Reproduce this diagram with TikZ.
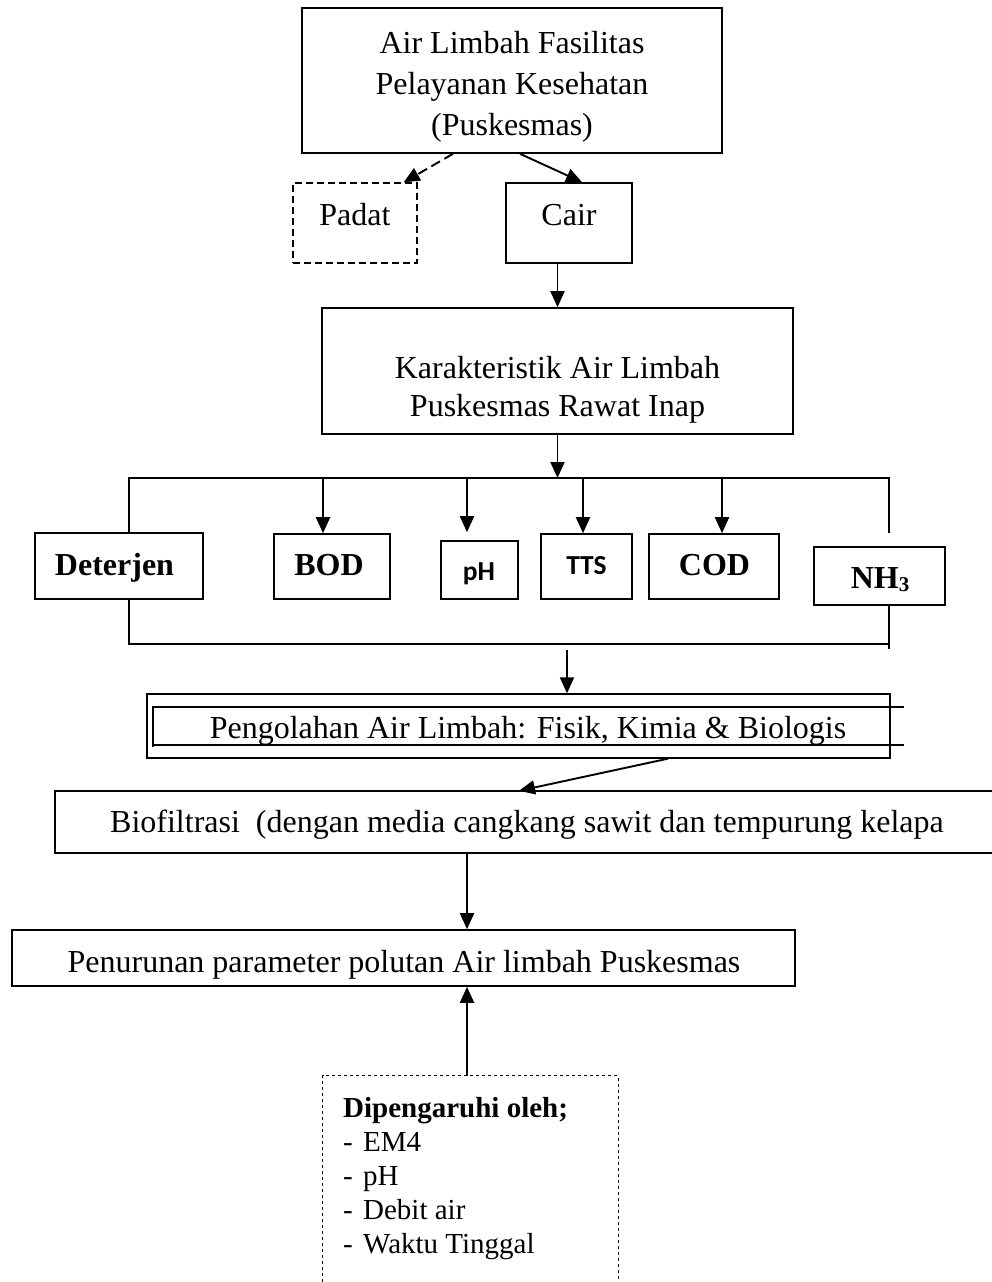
\documentclass[tikz,border=0pt]{standalone}
\usepackage{fontspec}
\setmainfont{Liberation Serif}
\newfontfamily\calib{Carlito}
\usetikzlibrary{arrows.meta,calc}
\begin{document}
\begin{tikzpicture}[x=1pt,y=-1pt,
  box/.style={draw,line width=1.6pt,inner sep=0pt,anchor=center},
  fnt/.style={font=\fontsize{32}{41}\selectfont,inner sep=0pt},
  tl/.style={font=\fontsize{32}{41}\selectfont,text height=21pt,text depth=0pt,inner sep=0pt},
  tlb/.style={font=\fontsize{32}{41}\selectfont\bfseries,text height=21pt,text depth=0pt,inner sep=0pt},
  tls/.style={font=\calib\bfseries\fontsize{27.5}{27.5}\selectfont,text height=17.5pt,text depth=0pt,inner sep=0pt},
  arr/.style={line width=1.9pt,-{Triangle[length=16pt,width=14pt]}},
  bus/.style={line width=1.3pt},
  padash/.style={line width=1.4pt,dash pattern=on 7pt off 4pt},
  dipdash/.style={line width=1.1pt,dash pattern=on 3pt off 3pt}]
\useasboundingbox (0,0) rectangle (992,1282);

% top
\node[box,minimum width=420pt,minimum height=145pt] (top) at (512,80.5) {};
\node[fnt,align=center] (toptxt) at (512,87) {Air Limbah Fasilitas\\Pelayanan Kesehatan\\(Puskesmas)};

\node[box,padash,minimum width=124pt,minimum height=80pt] (padat) at (355,223) {};
\node[tl] (padattxt) at (355,215) {Padat};
\node[box,minimum width=126pt,minimum height=80pt] (cair) at (569,223) {};
\node[tl] (cairtxt) at (569,215) {Cair};
\draw[arr,dash pattern=on 10pt off 5pt] ([xshift=-59pt]top.south) -- ([xshift=-14pt]padat.north east);
\draw[arr] ([xshift=8pt]top.south) -- ([xshift=13pt]cair.north);

% karakteristik
\node[box,minimum width=471pt,minimum height=126pt] (kar) at (557.5,371) {};
\node[align=center,font=\fontsize{32}{38}\selectfont,inner sep=0pt] (kartxt) at (557.5,390) {Karakteristik Air Limbah\\Puskesmas Rawat Inap};
\draw[arr] (cair.south -| kar.north) -- (kar.north);

% bus
\coordinate (busL) at (129,478);
\coordinate (busR) at (889,478);
\coordinate (rEnd) at (889,533);
\draw[arr] (kar.south) -- (kar.south |- busL);

% parameters
\node[box,minimum width=168pt,minimum height=66pt] (det) at (119,566) {};
\node[tlb] (dettxt) at (114.5,565) {Deterjen};
\node[box,minimum width=116pt,minimum height=65pt] (bod) at (332,566.5) {};
\node[tlb] (bodtxt) at (329,565) {BOD};
\node[box,minimum width=77pt,minimum height=58pt] (ph) at (479.5,570) {};
\node[tls] (phtxt) at (479,572) {pH};
\node[box,minimum width=91pt,minimum height=65pt] (tts) at (586.5,566.5) {};
\node[tls] (ttstxt) at (586.5,566) {TTS};
\node[box,minimum width=130pt,minimum height=65pt] (cod) at (714,566.5) {};
\node[tlb] (codtxt) at (714.5,565) {COD};
\node[box,minimum width=131pt,minimum height=58pt] (nh) at (879.5,576) {};
\node[tlb] (nhtxt) at (880,578) {NH\raisebox{-3pt}{\fontsize{21}{21}\selectfont 3}};

\draw[bus] (det.north -| busL) -- (busL) -- (busR) -- (rEnd);
\draw[arr] ([xshift=-9pt]bod.north |- busL) -- ([xshift=-9pt]bod.north);
\draw[arr] ([xshift=-12.5pt]ph.north |- busL) -- ([xshift=-12.5pt,yshift=8pt]ph.north);
\draw[arr] ([xshift=-3.5pt]tts.north |- busL) -- ([xshift=-3.5pt]tts.north);
\draw[arr] ([xshift=8pt]cod.north |- busL) -- ([xshift=8pt]cod.north);

\coordinate (bbL) at (129,644);
\coordinate (bbR) at (889,644);
\coordinate (rEnd2) at (889,649);
\draw[bus] (det.south -| bbL) -- (bbL) -- (bbR);
\draw[bus] (nh.south -| bbR) -- (rEnd2);

% pengolahan
\node[box,line width=1.3pt,minimum width=743pt,minimum height=64pt] (peng) at (518.5,726) {};
\coordinate (inTR) at (904,707);
\coordinate (inTL) at (153,707);
\coordinate (inBL) at (153,747);
\coordinate (inBL2) at (153,745);
\coordinate (inBR) at (904,745);
\draw[line width=1.6pt] (inTR) -- (inTL) -- (inBL);
\draw[line width=1.6pt] (inBL2) -- (inBR);
\node[tl] (pengtxt) at (528,728) {Pengolahan Air Limbah: Fisik, Kimia \& Biologis};
\coordinate (pstart) at (567,650);
\draw[arr] (pstart) -- (pstart |- peng.north);

% biofiltrasi
\node[inner sep=0pt,minimum width=945pt,minimum height=62pt] (bio) at (527.5,822) {};
\draw[line width=1.6pt] (bio.north east) -- (bio.north west) -- (bio.south west) -- (bio.south east);
\node[tl,anchor=west] (biotxt) at (110,822) {Biofiltrasi\ \ (dengan media cangkang sawit dan tempurung kelapa};
\draw[arr] ([xshift=149.5pt]peng.south) -- ([xshift=-8.5pt]bio.north);

% penurunan
\node[box,minimum width=783pt,minimum height=56pt] (pen) at (403.5,958) {};
\node[tl] (pentxt) at (404,962) {Penurunan parameter polutan Air limbah Puskesmas};
\coordinate (a1) at ([xshift=-60.5pt]bio.south);
\draw[arr] (a1) -- (a1 |- pen.north);

% dipengaruhi
\node[inner sep=0pt,minimum width=295pt,minimum height=230pt] (dip) at (470.5,1191) {};
\draw[dipdash] (dip.south west) -- (dip.north west) -- (dip.north east) -- (dip.south east);
\coordinate (a2) at ([xshift=-3.5pt]dip.north);
\draw[arr] (a2) -- (a2 |- pen.south);
\node[anchor=north west,align=left,font=\fontsize{29}{34}\selectfont,inner sep=0pt] (diptxt) at (343,1097)
  {\textbf{Dipengaruhi oleh;}\\\makebox[20pt][l]{-}EM4\\\makebox[20pt][l]{-}pH\\\makebox[20pt][l]{-}Debit air\\\makebox[20pt][l]{-}Waktu Tinggal};
\end{tikzpicture}
\end{document}
